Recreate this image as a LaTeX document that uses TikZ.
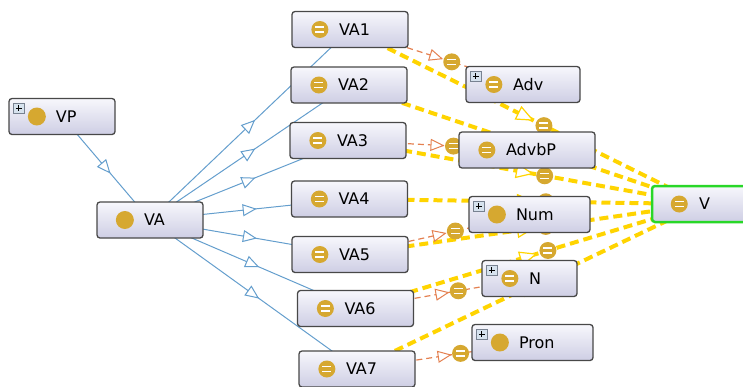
\documentclass[tikz,border=0pt]{standalone}
\usepackage{fontspec}
\setsansfont{DejaVu Sans}
\usetikzlibrary{arrows.meta,calc,backgrounds,decorations.markings}
\setlength{\parindent}{0pt}
\definecolor{isablue}{RGB}{100,158,205}
\definecolor{proporange}{RGB}{228,128,80}
\definecolor{eqyellow}{RGB}{255,212,0}
\definecolor{icongold}{RGB}{214,168,48}
\definecolor{boxline}{RGB}{72,72,72}
\definecolor{boxtop}{RGB}{247,247,252}
\definecolor{boxbot}{RGB}{206,206,228}
\definecolor{selgreen}{RGB}{40,215,40}
\definecolor{plusfill}{RGB}{214,226,238}
\tikzset{
  box/.style={draw=boxline,line width=1.3pt,rounded corners=3pt,top color=boxtop,bottom color=boxbot,
    text width=#1,minimum height=36pt,inner xsep=0pt,align=left,
    font=\sffamily\fontsize{16}{18}\selectfont,execute at begin node={\hspace*{47pt}}},
  eqdot/.style={circle,fill=icongold,minimum size=17pt,inner sep=0pt,
    path picture={\draw[white,line width=1.3pt]
      ($(path picture bounding box.center)+(-4.5,-2.5)$) -- +(9,0)
      ($(path picture bounding box.center)+(-4.5,2.5)$) -- +(9,0);}},
  plusbox/.style={draw={rgb,255:red,120;green,130;blue,145},fill=plusfill,minimum width=11pt,
    minimum height=10pt,inner sep=0pt,
    path picture={\draw[black,line width=0.9pt]
      ($(path picture bounding box.center)+(-3,0)$) -- +(6,0)
      ($(path picture bounding box.center)+(0,-3)$) -- +(0,6);}},
  isa/.style={isablue,line width=1pt,
    decoration={markings,mark=at position 0.5 with {\arrow[xshift=7pt]{Triangle[fill=white,length=14pt,width=12pt,line width=1pt]}}},
    postaction=decorate},
  prop/.style={proporange,line width=1.2pt,dash pattern=on 6pt off 4pt,
    decoration={markings,mark=at position 0.5 with {\arrow[xshift=7pt]{Triangle[fill=white,length=14pt,width=12pt,line width=1pt]}}},
    postaction=decorate},
  eqv/.style={eqyellow,line width=4pt,dash pattern=on 9pt off 5pt,
    decoration={markings,mark=at position 0.5 with {\arrow[xshift=9pt]{Triangle[fill=white,length=18pt,width=15pt,line width=1.2pt]}}},
    postaction=decorate},
}

\begin{document}
\begin{tikzpicture}[x=1pt,y=-1pt]
  \useasboundingbox (0,0) rectangle (743,386);
  % --- class boxes ---
  \node[box=106pt] (VP) at (62,116.5) {VP};
  \node[box=106pt] (VA) at (150,220) {VA};
  \node[box=116pt] (VA1) at (350,29.5) {VA1};
  \node[box=116pt] (VA2) at (349,85) {VA2};
  \node[box=116pt] (VA3) at (348,140.5) {VA3};
  \node[box=116pt] (VA4) at (349.5,199) {VA4};
  \node[box=116pt] (VA5) at (350,254.5) {VA5};
  \node[box=116pt] (VA6) at (355.5,308.5) {VA6};
  \node[box=116pt] (VA7) at (357,369) {VA7};
  \node[box=114pt] (Adv) at (523,84.5) {Adv};
  \node[box=136pt] (AdvbP) at (527,150) {AdvbP};
  \node[box=121pt] (Num) at (529.5,214.5) {Num};
  \node[box=95pt] (N) at (529.5,278.5) {N};
  \node[box=121pt] (Pron) at (532.5,342.5) {Pron};
  \node[box=100pt,draw=selgreen,line width=2.5pt] (V) at (702,204) {V};
  % --- edges, behind the boxes ---
  \begin{scope}[on background layer]
    \draw[isa] (VP.center) -- (VA.center);
    \foreach \i in {1,...,7} \draw[isa] (VA.center) -- (VA\i.center);
    \foreach \i in {1,...,7} \draw[eqv] (VA\i.center) -- (V.center);
    \foreach \i/\t in {1/Adv,3/AdvbP,5/Num,6/N,7/Pron} \draw[prop] (VA\i.center) -- (\t.center);
    \foreach \i in {1,...,7}
      \node[eqdot] (ed\i) at ($($(VA\i.center)!0.5!(V.center)$)!20pt!(V.center)$) {};
    \foreach \i/\t in {1/Adv,3/AdvbP,5/Num,6/N,7/Pron}
      \node[eqdot] (pd\i) at ($($(VA\i.center)!0.5!(\t.center)$)!16pt!(\t.center)$) {};
  \end{scope}
  % --- icons ---
  \foreach \n in {VP,VA,Num,Pron} \fill[icongold] ($(\n.west)+(28.5,0)$) circle (9);
  \foreach \n in {VA1,VA2,VA3,VA4,VA5,VA6,VA7,Adv,AdvbP,N,V}
    \node[eqdot] (\n-i) at ($(\n.west)+(28.5,0)$) {};
  \foreach \n in {VP,Adv,Num,N,Pron}
    \node[plusbox] (\n-p) at ($(\n.north west)+(10.5,10.5)$) {};
\end{tikzpicture}
\end{document}
